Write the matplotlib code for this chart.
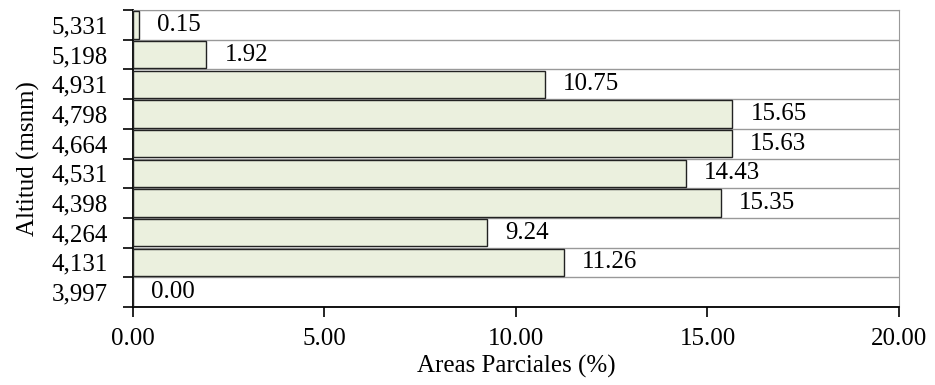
import matplotlib.pyplot as plt
import numpy as np
from matplotlib.ticker import FixedLocator

altitudes = ["3,997", "4,131", "4,264", "4,398", "4,531", "4,664", "4,798", "4,931", "5,198", "5,331"]
areas = [0.00, 11.26, 9.24, 15.35, 14.43, 15.63, 15.65, 10.75, 1.92, 0.15]
x_ticks = [0, 5, 10, 15, 20]

plt.rcParams['font.family'] = ['Liberation Serif', 'DejaVu Serif']

fig = plt.figure(figsize=(9.35, 3.85), dpi=100)
ax = fig.add_axes([0.1422, 0.2026, 0.8193, 0.7714])

y = np.arange(len(altitudes))
ax.barh(y, areas, height=0.92, color='#ebf0de', edgecolor='#222222', linewidth=1.0, zorder=3)

# etiquetas de valor al final de cada barra
for yi, v in zip(y, areas):
    ax.annotate(f"{v:.2f}", xy=(v, yi), xytext=(13, 0), textcoords='offset points',
                va='center', ha='left', fontsize=18)

ax.set_xlim(0, 20)
ax.set_ylim(-0.5, len(altitudes) - 0.5)
ax.set_xticks(x_ticks)
ax.set_xticklabels([f"{t:.2f}" for t in x_ticks], fontsize=18)
ax.set_yticks(y)
ax.set_yticklabels(altitudes, fontsize=18)
ax.yaxis.set_minor_locator(FixedLocator(np.arange(-0.5, len(altitudes), 1.0)))
ax.tick_params(axis='y', which='major', length=0, pad=18)
ax.tick_params(axis='y', which='minor', length=7, width=1.2, direction='out')
ax.tick_params(axis='x', length=7, width=1.2, direction='out', pad=8)
ax.grid(axis='y', which='minor', color='#999999', linewidth=1.0, zorder=0)

ax.spines['left'].set_linewidth(1.3)
ax.spines['bottom'].set_linewidth(1.3)
ax.spines['top'].set_color('#999999')
ax.spines['right'].set_color('#999999')

ax.set_xlabel("Areas Parciales (%)", fontsize=18, labelpad=4)
ax.set_ylabel("Altitud (msnm)", fontsize=18, labelpad=8)

fig.savefig("out.png", dpi=100)
